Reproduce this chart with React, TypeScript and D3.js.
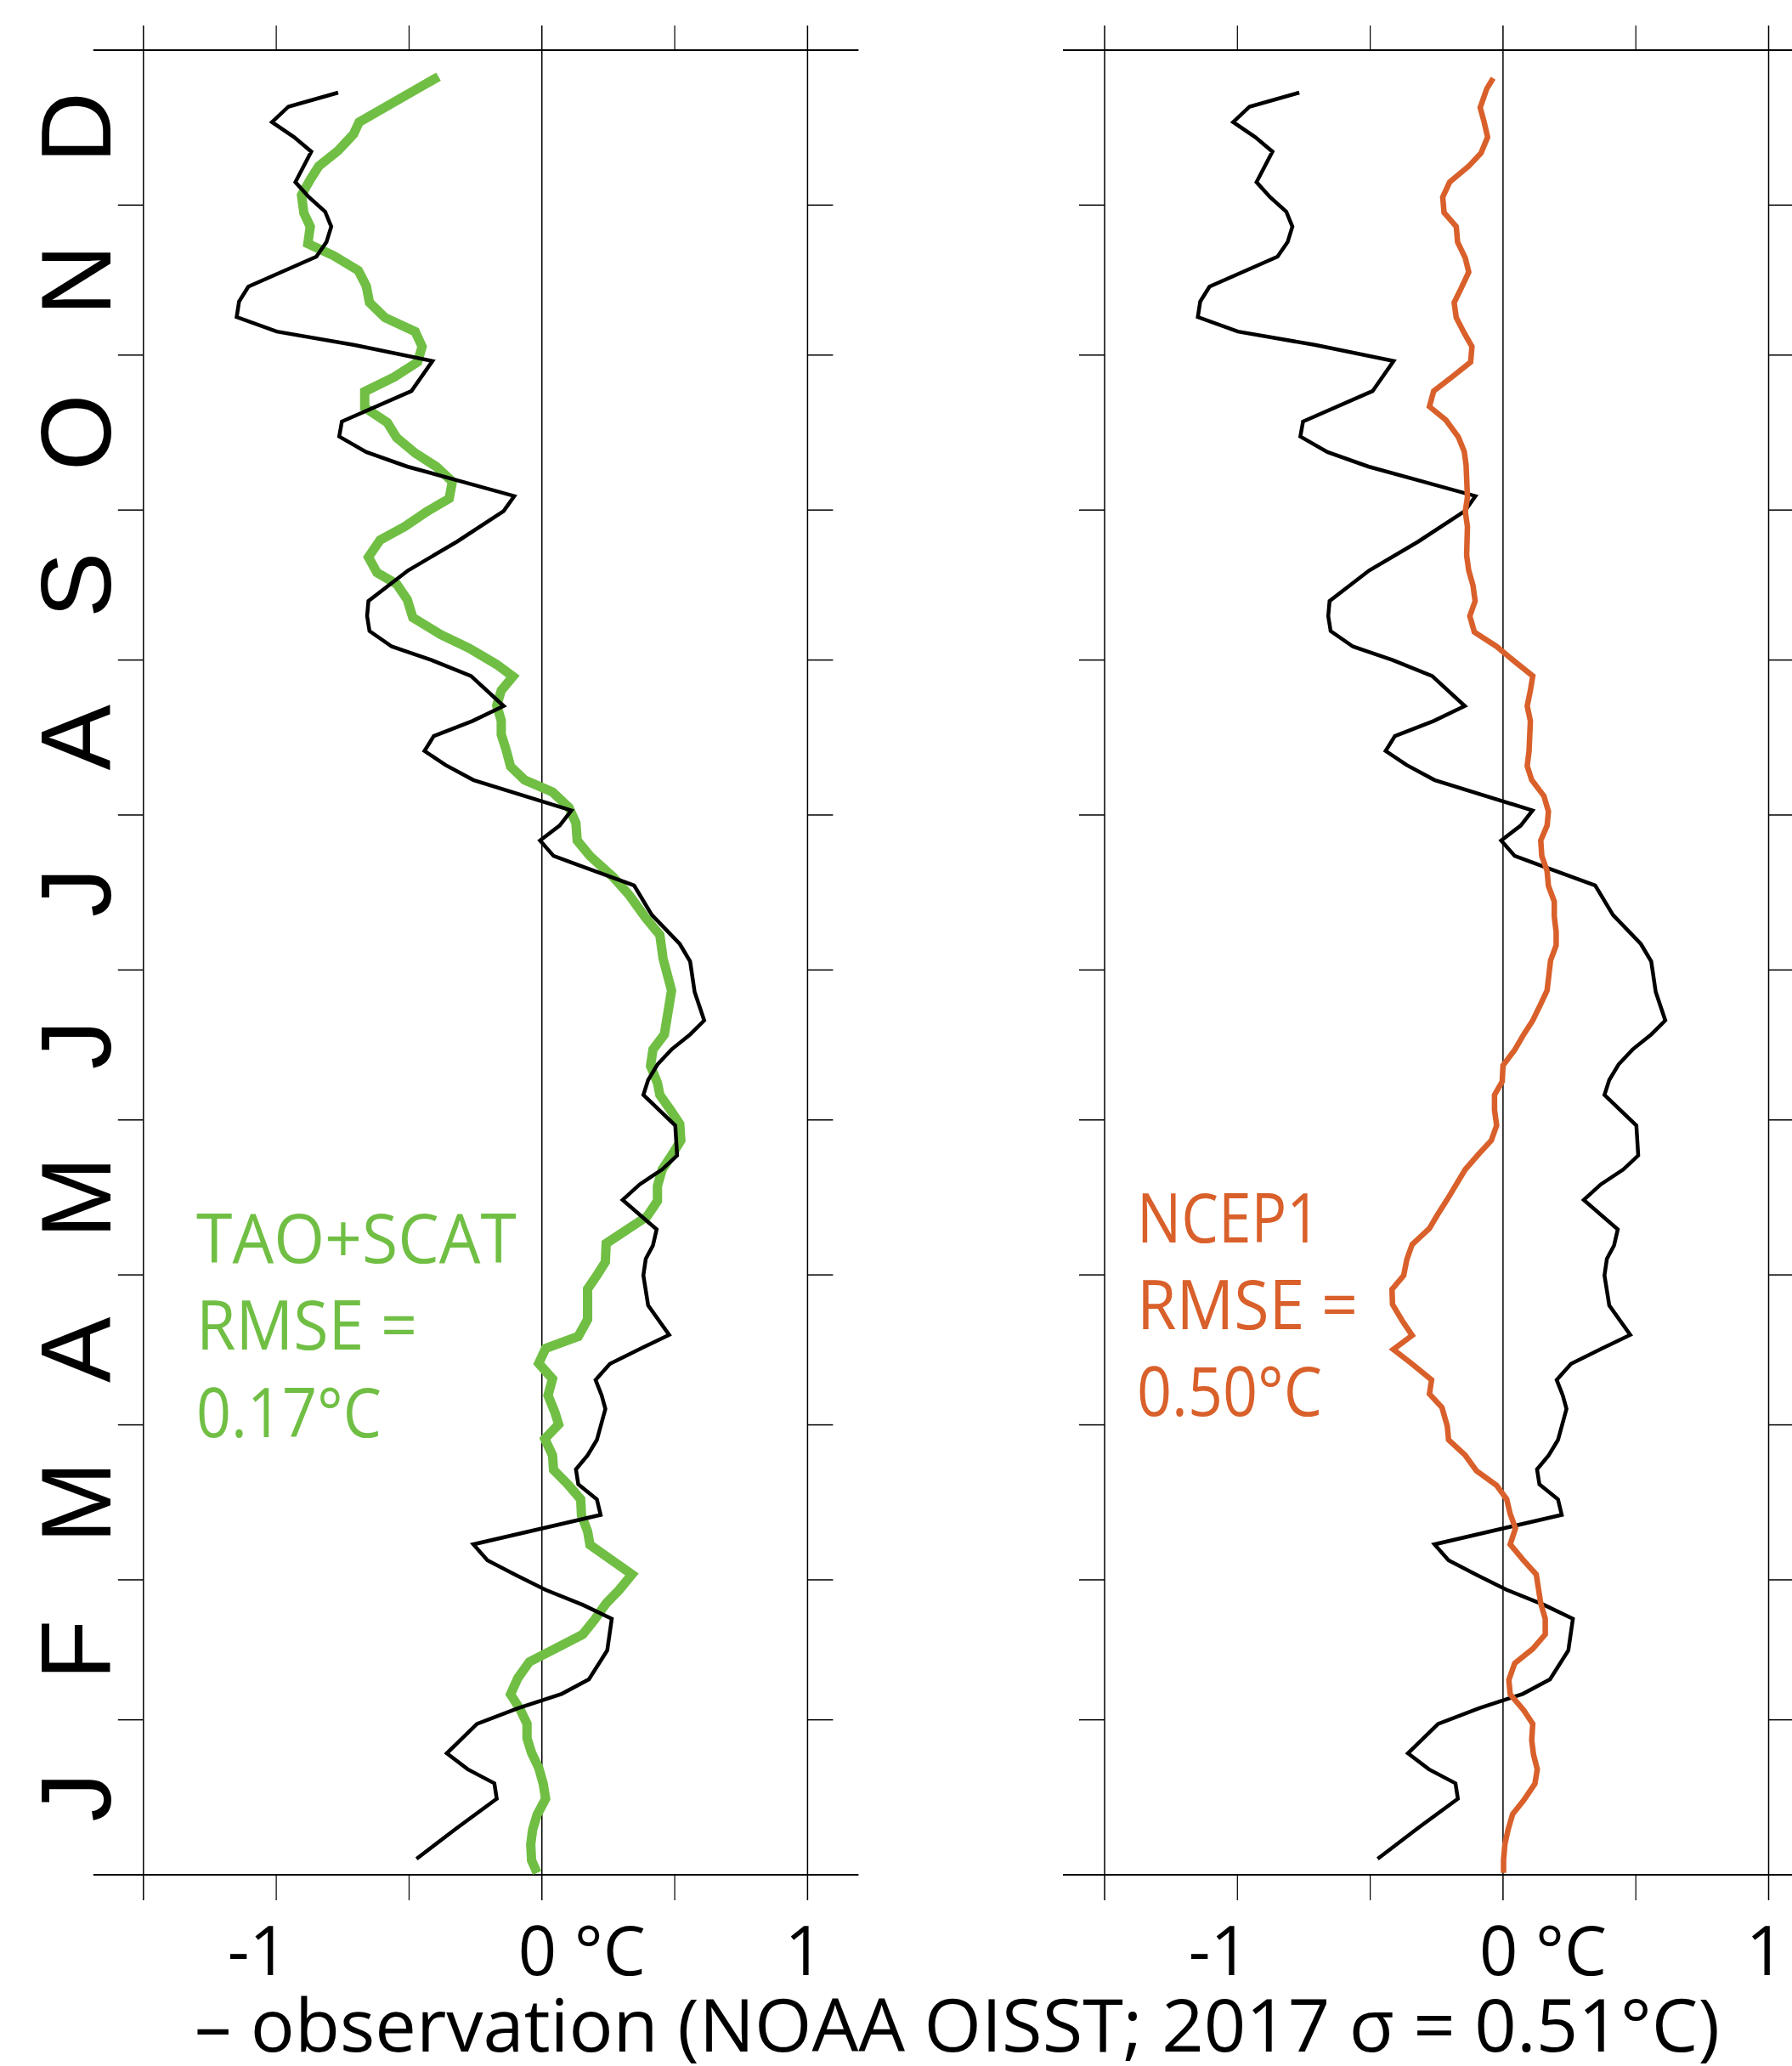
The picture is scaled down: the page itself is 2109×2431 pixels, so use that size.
import React from "react";
import * as d3 from "d3";

// month labels (Jan at the bottom, Dec at the top)
const months = ["J", "F", "M", "A", "M", "J", "J", "A", "S", "O", "N", "D"];
const xTicks = [-1.5, -1, -0.5, 0, 0.5, 1];

// observation (NOAA OISST 2017), day of year / anomaly °C
const obsDay = [3.2, 9.4, 15.2, 18.3, 21.1, 24.3, 30.2, 33.3, 36.2, 39.1, 44.9, 51.2, 54.0, 57.0, 60.0, 62.9, 66.1, 72.0, 75.1, 78.1, 81.1, 83.9, 87.0, 93.2, 95.9, 99.0, 102.2, 105.3, 108.0, 113.9, 119.9, 123.2, 125.9, 129.1, 135.0, 138.1, 141.1, 143.9, 149.9, 156.0, 159.0, 162.1, 165.1, 168.1, 170.9, 176.6, 182.7, 186.2, 192.0, 197.9, 203.8, 206.9, 209.9, 212.9, 219.0, 222.0, 224.8, 227.8, 230.8, 233.8, 239.8, 243.0, 245.7, 248.8, 251.8, 254.8, 260.9, 266.7, 272.8, 275.8, 278.7, 281.7, 284.6, 287.7, 290.7, 296.8, 302.8, 306.0, 308.7, 311.6, 314.7, 317.7, 323.7, 326.6, 329.7, 332.7, 335.6, 338.6, 344.7, 347.6, 350.6, 353.7, 356.5];
const obsVal = [-0.472, -0.319, -0.17, -0.179, -0.279, -0.358, -0.244, -0.091, 0.075, 0.177, 0.246, 0.263, 0.154, 0.014, -0.1, -0.205, -0.258, 0.221, 0.207, 0.137, 0.128, 0.172, 0.207, 0.239, 0.225, 0.202, 0.256, 0.374, 0.479, 0.4, 0.382, 0.391, 0.418, 0.432, 0.304, 0.368, 0.453, 0.509, 0.502, 0.382, 0.4, 0.435, 0.488, 0.558, 0.611, 0.575, 0.558, 0.519, 0.414, 0.347, 0.044, -0.007, 0.067, 0.111, -0.258, -0.363, -0.442, -0.407, -0.261, -0.144, -0.267, -0.416, -0.565, -0.649, -0.658, -0.653, -0.504, -0.319, -0.144, -0.104, -0.302, -0.507, -0.661, -0.763, -0.753, -0.491, -0.412, -0.705, -0.998, -1.149, -1.14, -1.105, -0.849, -0.811, -0.793, -0.816, -0.877, -0.928, -0.868, -0.933, -1.016, -0.954, -0.767];

// TAO+SCAT model
const taoDay = [0.4, 2.9, 6.1, 9.0, 12.0, 15.2, 18.2, 21.4, 24.4, 27.3, 30.2, 33.1, 36.1, 39.3, 42.6, 45.2, 48.1, 51.0, 54.3, 57.0, 60.1, 66.0, 68.7, 71.9, 75.1, 78.1, 81.0, 83.9, 87.2, 90.1, 92.5, 95.9, 99.2, 102.3, 105.3, 107.7, 111.1, 117.2, 119.9, 122.6, 126.3, 131.7, 134.8, 137.8, 141.1, 143.9, 146.9, 150.2, 153.0, 156.0, 158.4, 161.8, 165.1, 168.1, 176.9, 183.3, 188.0, 191.4, 195.9, 199.6, 203.8, 206.9, 210.4, 213.5, 216.6, 219.0, 221.7, 225.1, 228.1, 230.9, 233.9, 236.9, 239.7, 242.1, 245.4, 248.1, 251.5, 255.1, 258.2, 260.5, 263.6, 267.0, 269.7, 272.7, 275.3, 278.7, 281.7, 284.4, 287.5, 290.5, 293.5, 296.7, 299.6, 302.6, 305.7, 308.7, 311.5, 314.5, 317.8, 320.9, 323.9, 326.3, 329.7, 332.4, 336.0, 339.1, 341.8, 344.9, 348.2, 350.6, 357.3, 359.7];
const taoVal = [-0.018, -0.039, -0.042, -0.035, -0.018, 0.014, 0.005, -0.012, -0.039, -0.056, -0.056, -0.082, -0.118, -0.091, -0.047, 0.049, 0.154, 0.198, 0.242, 0.291, 0.339, 0.181, 0.172, 0.149, 0.146, 0.098, 0.044, 0.04, 0.011, 0.063, 0.049, 0.023, 0.04, -0.012, 0.014, 0.137, 0.172, 0.172, 0.207, 0.239, 0.242, 0.396, 0.435, 0.435, 0.453, 0.488, 0.523, 0.519, 0.484, 0.444, 0.435, 0.409, 0.418, 0.461, 0.488, 0.456, 0.444, 0.391, 0.33, 0.268, 0.181, 0.133, 0.128, 0.102, 0.04, -0.065, -0.118, -0.135, -0.153, -0.153, -0.17, -0.153, -0.109, -0.17, -0.275, -0.381, -0.486, -0.507, -0.547, -0.621, -0.653, -0.609, -0.516, -0.433, -0.349, -0.337, -0.398, -0.477, -0.547, -0.582, -0.667, -0.667, -0.556, -0.468, -0.451, -0.477, -0.591, -0.649, -0.661, -0.691, -0.784, -0.881, -0.872, -0.896, -0.905, -0.872, -0.84, -0.767, -0.709, -0.688, -0.468, -0.389];

// NCEP1 model
const ncepDay = [0.4, 2.9, 6.1, 9.0, 12.1, 14.9, 18.2, 21.1, 24.0, 26.9, 30.2, 32.9, 36.1, 39.0, 42.3, 45.2, 48.1, 51.2, 54.3, 60.1, 63.1, 66.1, 69.3, 72.2, 75.1, 77.9, 80.8, 83.9, 87.0, 89.8, 93.5, 96.2, 99.0, 102.3, 105.1, 107.9, 110.8, 114.1, 117.1, 119.9, 123.1, 126.1, 129.3, 132.0, 135.1, 138.1, 141.1, 144.2, 146.9, 149.9, 153.0, 156.0, 158.7, 161.9, 165.0, 168.1, 170.9, 174.2, 176.9, 182.9, 185.9, 188.6, 191.7, 194.7, 197.8, 200.8, 203.8, 206.9, 209.9, 212.7, 215.8, 219.0, 221.8, 224.8, 230.8, 233.8, 236.9, 239.8, 242.7, 245.7, 248.6, 251.8, 254.8, 257.9, 260.9, 263.9, 269.7, 272.7, 275.6, 282.0, 284.7, 287.6, 291.0, 293.7, 296.8, 299.6, 302.6, 305.7, 308.4, 311.5, 314.5, 317.2, 320.6, 323.4, 326.6, 329.7, 332.5, 335.6, 338.6, 341.8, 344.4, 347.6, 350.6, 353.5, 357.3, 359.4];
const ncepVal = [0.002, 0.002, 0.007, 0.019, 0.036, 0.078, 0.12, 0.129, 0.115, 0.108, 0.112, 0.078, 0.027, 0.022, 0.044, 0.112, 0.159, 0.159, 0.142, 0.125, 0.074, 0.027, 0.047, 0.027, 0.014, -0.024, -0.1, -0.142, -0.205, -0.21, -0.23, -0.277, -0.269, -0.345, -0.413, -0.342, -0.379, -0.416, -0.418, -0.374, -0.362, -0.342, -0.277, -0.247, -0.21, -0.176, -0.142, -0.091, -0.044, -0.024, -0.032, -0.032, -0.003, 0.0, 0.044, 0.078, 0.112, 0.142, 0.166, 0.179, 0.2, 0.2, 0.193, 0.193, 0.171, 0.166, 0.146, 0.142, 0.166, 0.171, 0.154, 0.108, 0.091, 0.098, 0.103, 0.091, 0.103, 0.112, 0.044, -0.024, -0.108, -0.125, -0.105, -0.113, -0.129, -0.137, -0.134, -0.142, -0.134, -0.139, -0.146, -0.168, -0.215, -0.277, -0.261, -0.193, -0.122, -0.117, -0.146, -0.176, -0.184, -0.159, -0.129, -0.142, -0.171, -0.176, -0.222, -0.227, -0.201, -0.129, -0.083, -0.058, -0.071, -0.086, -0.061, -0.037];

const GREEN = "#70bf44";
const ORANGE = "#d9602b";
const LABEL_FONT = "'Open Sans', sans-serif";

const yearStart = Date.UTC(2017, 0, 1);
const toDate = (d: number) => new Date(yearStart + d * 86400000);

const y = d3
  .scaleUtc()
  .domain([new Date(yearStart), new Date(Date.UTC(2018, 0, 1))])
  .range([2206, 59]);
const monthStarts = d3.utcMonth.range(new Date(yearStart), new Date(Date.UTC(2018, 0, 2)));

function Panel({ x0, x1, leftExt, rightExt, model, color, width, modelOnTop, labels, labelX, labelY, labelLen, monthLabels }) {
  const x = d3.scaleLinear().domain([-1.5, 1]).range([x0, x1]);
  const line = d3
    .line<[number, number]>()
    .x((d) => x(d[1]))
    .y((d) => y(toDate(d[0])));
  const obsPts = obsDay.map((d, i) => [d, obsVal[i]] as [number, number]);
  const modPts = model[0].map((d, i) => [d, model[1][i]] as [number, number]);
  const [yt, yb] = [y.range()[1], y.range()[0]];

  const modelPath = (
    <path d={line(modPts)} fill="none" stroke={color} strokeWidth={width} strokeLinejoin="miter" />
  );
  const obsPath = <path d={line(obsPts)} fill="none" stroke="#000" strokeWidth={4.5} />;

  return (
    <g>
      {/* frame */}
      <line x1={x0 - leftExt} x2={x1 + rightExt} y1={yt} y2={yt} stroke="#000" strokeWidth={2} />
      <line x1={x0 - leftExt} x2={x1 + rightExt} y1={yb} y2={yb} stroke="#000" strokeWidth={2} />
      {xTicks.map((t) => {
        const full = t === -1.5 || t === 0 || t === 1;
        return full ? (
          <line key={t} x1={x(t)} x2={x(t)} y1={yt - 29} y2={yb + 30} stroke="#000" strokeWidth={1.5} />
        ) : (
          <g key={t}>
            <line x1={x(t)} x2={x(t)} y1={yt - 29} y2={yt} stroke="#000" strokeWidth={1.2} />
            <line x1={x(t)} x2={x(t)} y1={yb} y2={yb + 30} stroke="#000" strokeWidth={1.2} />
          </g>
        );
      })}
      {monthStarts.map((m, i) => (
        <g key={i}>
          <line x1={x0 - 30} x2={x0} y1={y(m)} y2={y(m)} stroke="#000" strokeWidth={1.5} />
          <line x1={x1} x2={x1 + 30} y1={y(m)} y2={y(m)} stroke="#000" strokeWidth={1.5} />
        </g>
      ))}
      {monthLabels &&
        months.map((m, i) => {
          const mid = (y(monthStarts[i]) + y(monthStarts[i + 1])) / 2;
          return (
            <text
              key={i}
              transform={`translate(130,${mid}) rotate(-90)`}
              textAnchor="middle"
              fontFamily="'Liberation Sans', Arial, sans-serif"
              fontSize={116}
              fill="#000"
            >
              {m}
            </text>
          );
        })}
      {/* tick labels */}
      <g fontFamily={LABEL_FONT} fontSize={80} fill="#000">
        <text x={x(-1) + 14} y={2324} textAnchor="end">-1</text>
        <text x={x(0) - 28} y={2324} textLength={150} lengthAdjust="spacingAndGlyphs">0 °C</text>
        <text x={x(1) - 4} y={2324} textAnchor="middle">1</text>
      </g>
      {modelOnTop ? obsPath : modelPath}
      {modelOnTop ? modelPath : obsPath}
      <g fontFamily={LABEL_FONT} fontSize={80} fill={color}>
        {labels.map((s, i) => (
          <text key={i} x={labelX} y={labelY[i]} textLength={labelLen[i]} lengthAdjust="spacingAndGlyphs">
            {s}
          </text>
        ))}
      </g>
    </g>
  );
}

export default function App() {
  return (
    <svg
      width={2109}
      height={2431}
      style={{ position: "absolute", left: 0, top: 0, background: "#fff" }}
    >
      <rect width={2109} height={2431} fill="#fff" />
      <Panel
        x0={168.8}
        x1={950.4}
        leftExt={59}
        rightExt={60}
        model={[taoDay, taoVal]}
        color={GREEN}
        width={11}
        modelOnTop={false}
        labels={["TAO+SCAT", "RMSE =", "0.17°C"]}
        labelX={231}
        labelY={[1486, 1588, 1691]}
        labelLen={[377, 260, 218]}
        monthLabels={true}
      />
      <Panel
        x0={1300}
        x1={2081.5}
        leftExt={49}
        rightExt={60}
        model={[ncepDay, ncepVal]}
        color={ORANGE}
        width={6.5}
        modelOnTop={true}
        labels={["NCEP1", "RMSE =", "0.50°C"]}
        labelX={1338}
        labelY={[1462, 1564, 1666]}
        labelLen={[216, 260, 218]}
        monthLabels={false}
      />
      <text
        x={229}
        y={2414}
        fontFamily={LABEL_FONT}
        fontSize={86}
        fill="#000"
        textLength={1795}
        lengthAdjust="spacingAndGlyphs"
      >
        – observation (NOAA OISST; 2017 σ = 0.51°C)
      </text>
    </svg>
  );
}
